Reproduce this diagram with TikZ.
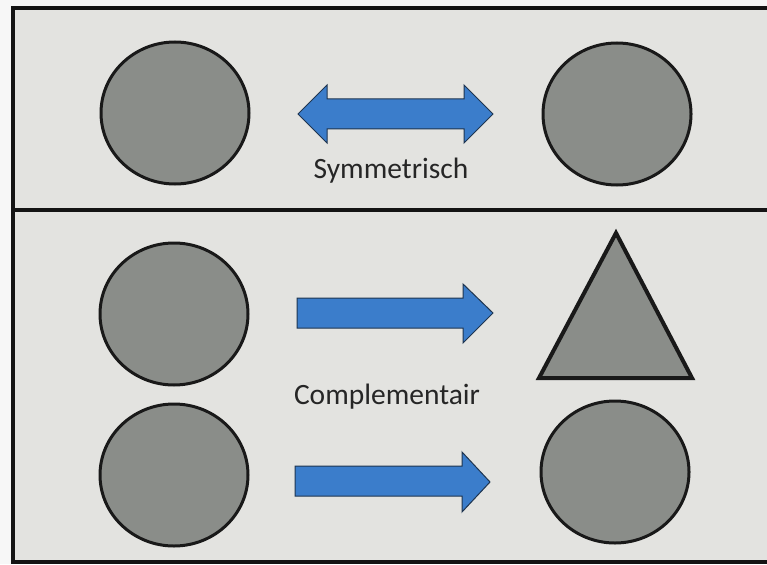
\documentclass[tikz,border=0pt]{standalone}
\usepackage{fontspec}
\setmainfont{Carlito}
\usetikzlibrary{shapes.geometric}
\definecolor{panel}{HTML}{E3E3E0}
\definecolor{shapegrey}{HTML}{8A8D89}
\definecolor{arrowblue}{HTML}{3B7DCB}
\definecolor{arrowedge}{HTML}{1F3550}
\tikzset{
  ball/.style={ellipse, draw=black!90, line width=3pt, fill=shapegrey, minimum width=148pt, minimum height=142pt, inner sep=0pt},
  blockarrow/.style={fill=arrowblue, draw=arrowedge, line width=1pt, line join=miter},
  lbl/.style={anchor=base, font=\fontsize{29.5}{32}\selectfont, text=black!85},
  frame/.style={draw=black!92, line width=3.5pt}
}
\begin{document}
\begin{tikzpicture}[x=1pt,y=-1pt]
\useasboundingbox (0,0) rectangle (767,564);
\fill[white!97!black] (0,0) rectangle (767,564);
% panel
\fill[panel] (13,8) rectangle (780,562);
\draw[frame] (780,8) -- (13,8) -- (13,562) -- (780,562);
\coordinate (divL) at (13,210);
\coordinate (divR) at (780,210);
\draw[frame] (divL) -- (divR);
% top row
\node[ball] (tl) at (175,113) {};
\node[ball] (tr) at (617,114) {};
\draw[blockarrow] (298,114) -- (327,85) -- (327,99) -- (464,99) -- (464,85) -- (493,114)
  -- (464,143) -- (464,129) -- (327,129) -- (327,143) -- cycle;
\node[lbl] (sym) at (391,178) {Symmetrisch};
% bottom rows
\node[ball] (ml) at (174,314) {};
\node[ball] (bl) at (174,475) {};
\node[ball] (br) at (615,472) {};
\coordinate (triA) at (616,233);
\coordinate (triB) at (539,378);
\coordinate (triC) at (692,378);
\draw[fill=shapegrey, draw=black!90, line width=4pt, line join=miter] (triA) -- (triB) -- (triC) -- cycle;
\draw[blockarrow] (297,298) -- (463,298) -- (463,284) -- (493,313) -- (463,343) -- (463,328) -- (297,328) -- cycle;
\node[lbl] (comp) at (387,404) {Complementair};
\draw[blockarrow] (295,466) -- (462,466) -- (462,452) -- (490,482) -- (462,512) -- (462,496) -- (295,496) -- cycle;
\end{tikzpicture}
\end{document}
